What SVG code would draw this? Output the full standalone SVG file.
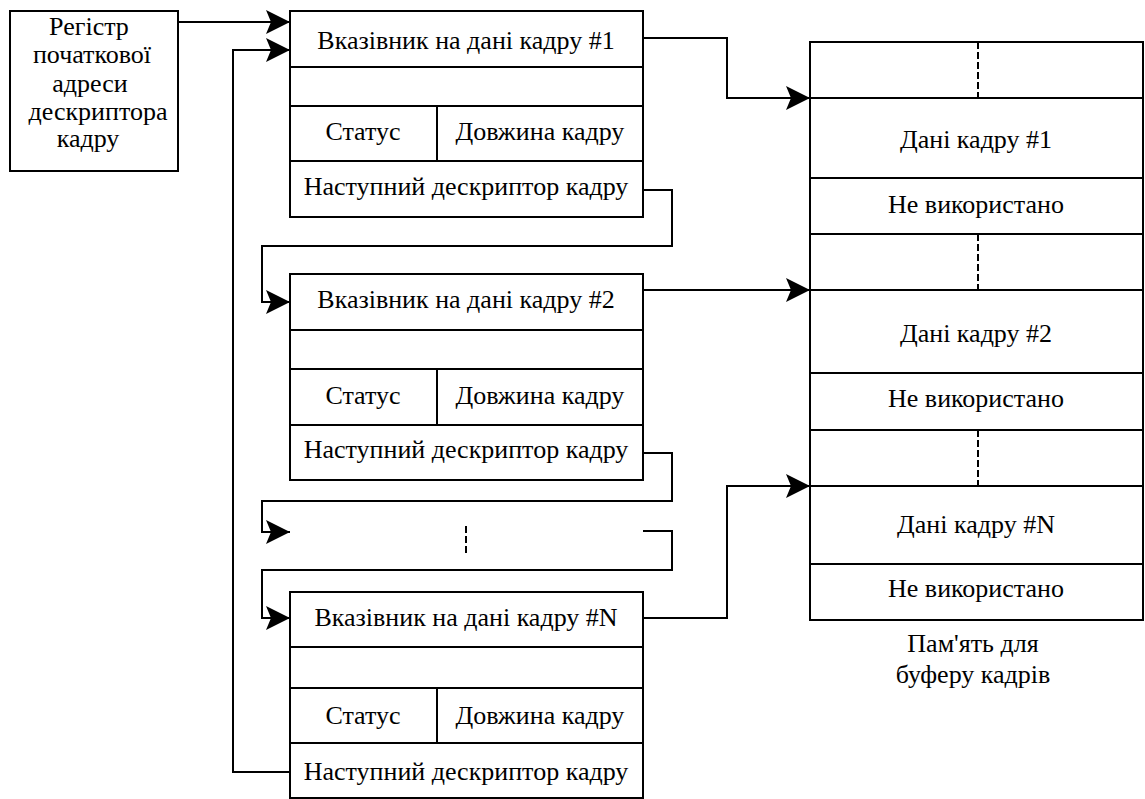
<svg xmlns="http://www.w3.org/2000/svg" width="1145" height="799" viewBox="0 0 1145 799">
  <style>
    .box { fill: #fff; stroke: #000; stroke-width: 2; }
    .ln { fill: none; stroke: #000; stroke-width: 2; }
    .dash { fill: none; stroke: #000; stroke-width: 2; stroke-dasharray: 7 3; }
    .arr { fill: none; stroke: #000; stroke-width: 2; marker-end: url(#head); }
    text { font-family: "Liberation Serif", "Times New Roman", serif; font-size: 26px; fill: #000; text-anchor: middle; }
  </style>
  <defs>
    <marker id="head" markerUnits="userSpaceOnUse" markerWidth="26" markerHeight="26" refX="24" refY="12" orient="auto" overflow="visible">
      <path d="M0,0 L24,12 L0,24 L5,12 Z" fill="#000"/>
    </marker>
  </defs>

  <!-- start address register -->
  <g id="register">
    <rect class="box" x="10" y="11" width="168" height="160"/>
    <text x="89" y="35">Регістр</text>
    <text x="92" y="63">початкової</text>
    <text x="90" y="92">адреси</text>
    <text x="98" y="120">дескриптора</text>
    <text x="88" y="147">кадру</text>
  </g>

  <!-- descriptor #1 -->
  <g id="desc1">
    <rect class="box" x="290" y="11" width="353" height="206"/>
    <path class="ln" d="M290,67 H643 M290,106 H643 M290,161 H643 M437,106 V161"/>
    <text x="466" y="49">Вказівник на дані кадру #1</text>
    <text x="363" y="140">Статус</text>
    <text x="540" y="140">Довжина кадру</text>
    <text x="466" y="195">Наступний дескриптор кадру</text>
  </g>

  <!-- descriptor #2 -->
  <g id="desc2">
    <rect class="box" x="290" y="274" width="353" height="206"/>
    <path class="ln" d="M290,330 H643 M290,369 H643 M290,425 H643 M437,369 V425"/>
    <text x="466" y="308">Вказівник на дані кадру #2</text>
    <text x="363" y="404">Статус</text>
    <text x="540" y="404">Довжина кадру</text>
    <text x="466" y="458">Наступний дескриптор кадру</text>
  </g>

  <!-- elided descriptors -->
  <g id="ellipsis">
    <path class="dash" d="M466,526 V556"/>
  </g>

  <!-- descriptor #N -->
  <g id="descN">
    <rect class="box" x="290" y="592" width="353" height="206"/>
    <path class="ln" d="M290,647 H643 M290,688 H643 M290,743 H643 M437,688 V743"/>
    <text x="466" y="626">Вказівник на дані кадру #N</text>
    <text x="363" y="724">Статус</text>
    <text x="540" y="724">Довжина кадру</text>
    <text x="466" y="780">Наступний дескриптор кадру</text>
  </g>

  <!-- frame buffer memory -->
  <g id="memory">
    <rect class="box" x="810" y="42" width="333" height="578"/>
    <path class="ln" d="M810,98 H1143 M810,178 H1143 M810,234 H1143 M810,290 H1143 M810,373 H1143 M810,430 H1143 M810,486 H1143 M810,564 H1143"/>
    <path class="dash" d="M978,42 V98 M978,234 V290 M978,430 V486"/>
    <text x="976" y="148">Дані кадру #1</text>
    <text x="976" y="213">Не використано</text>
    <text x="976" y="342">Дані кадру #2</text>
    <text x="976" y="407">Не використано</text>
    <text x="976" y="533">Дані кадру #N</text>
    <text x="976" y="597">Не використано</text>
  </g>

  <g id="memory-caption">
    <text x="973" y="652">Пам'ять для</text>
    <text x="973" y="683">буферу кадрів</text>
  </g>

  <!-- connectors -->
  <g id="connectors">
    <path class="arr" d="M178,22 H290"/>
    <path class="arr" d="M290,772 H233 V50 H290"/>
    <path class="arr" d="M643,38 H727 V98 H810"/>
    <path class="arr" d="M643,190 H672 V246 H262 V302 H290"/>
    <path class="arr" d="M643,290 H810"/>
    <path class="arr" d="M643,453 H672 V501 H262 V532 H290"/>
    <path class="arr" d="M643,531 H672 V570 H262 V618 H290"/>
    <path class="arr" d="M643,618 H727 V486 H810"/>
  </g>
</svg>
